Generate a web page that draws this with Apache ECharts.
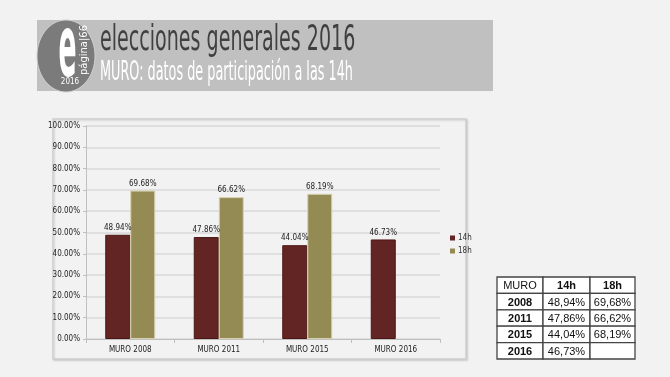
<!DOCTYPE html>
<html>
<head>
<meta charset="utf-8">
<script src="https://cdn.jsdelivr.net/npm/echarts@6/dist/echarts.min.js"></script>
<style>
  html, body { margin: 0; padding: 0; background: #f2f2f2; }
  #chart { width: 670px; height: 377px; }
</style>
</head>
<body>
<div id="chart"></div>
<script>
// datos
const categories = ['MURO 2008', 'MURO 2011', 'MURO 2015', 'MURO 2016'];
const seriesNames = ['14h', '18h'];
const values14 = [48.94, 47.86, 44.04, 46.73];
const values18 = [69.68, 66.62, 68.19, null];
const tableYears = ['2008', '2011', '2015', '2016'];

const narrow = 'Liberation Sans Narrow, DejaVu Sans Condensed, Arial, sans-serif';
const fmtPct = v => v.toFixed(2) + '%';
const fmtComma = v => v == null ? '' : v.toFixed(2).replace('.', ',') + '%';

const myChart = echarts.init(document.getElementById('chart'), null, { renderer: 'canvas' });

// tabla de la derecha
const tableX = 497, tableY = 277, rowH = 16.4;
const colW = [46, 47, 45];
const tableRows = [['MURO', '14h', '18h']].concat(
  tableYears.map((y, i) => [y, fmtComma(values14[i]), fmtComma(values18[i])])
);
const tableGraphics = [];
tableRows.forEach((row, r) => {
  let x = tableX;
  row.forEach((cell, c) => {
    const bold = (r === 0 && c > 0) || (r > 0 && c === 0);
    tableGraphics.push({
      type: 'rect',
      shape: { x: x, y: tableY + r * rowH, width: colW[c], height: rowH },
      style: { fill: '#ffffff', stroke: '#444444', lineWidth: 1.3 },
      z: 10
    });
    tableGraphics.push({
      type: 'text',
      x: x + colW[c] / 2,
      y: tableY + r * rowH + rowH / 2 + 1,
      style: {
        text: cell, align: 'center', verticalAlign: 'middle',
        font: (bold ? 'bold ' : '') + '11px Liberation Sans, Arial, sans-serif',
        fill: '#111111'
      },
      z: 11
    });
    x += colW[c];
  });
});

const option = {
  backgroundColor: '#f2f2f2',
  animation: false,
  grid: { left: 86, right: 230, top: 126, bottom: 38 },
  legend: {
    data: seriesNames.map(n => ({ name: n, icon: 'rect' })),
    orient: 'vertical',
    left: 445,
    top: 229,
    itemWidth: 5,
    itemHeight: 5,
    itemGap: 5,
    itemStyle: { borderWidth: 0 },
    textStyle: { fontSize: 8, color: '#333', fontFamily: narrow, padding: [0, 0, 0, -2] }
  },
  xAxis: {
    type: 'category',
    data: categories,
    axisLine: { lineStyle: { color: '#bfbfbf' } },
    axisTick: { show: true, length: 4, lineStyle: { color: '#bfbfbf' } },
    axisLabel: { color: '#222', fontSize: 8, fontFamily: narrow, margin: 7 }
  },
  yAxis: {
    type: 'value',
    min: 0,
    max: 100,
    interval: 10,
    axisLine: { show: true, lineStyle: { color: '#bfbfbf' } },
    axisTick: { show: true, length: 3, lineStyle: { color: '#bfbfbf' } },
    axisLabel: { color: '#222', fontSize: 8, fontFamily: narrow, margin: 6, formatter: fmtPct },
    splitLine: { lineStyle: { color: '#d9d9d9', width: 1.5 } }
  },
  series: [
    {
      name: '14h',
      type: 'bar',
      data: values14,
      barWidth: 25,
      barGap: 0,
      itemStyle: { color: '#632523', borderColor: '#4a1715', borderWidth: 1 },
      label: { show: true, position: 'top', distance: 3, formatter: p => fmtPct(p.value), fontSize: 8, color: '#222', fontFamily: narrow }
    },
    {
      name: '18h',
      type: 'bar',
      data: values18,
      barWidth: 25,
      itemStyle: { color: '#948a54', borderColor: '#d8d2b0', borderWidth: 1 },
      label: { show: true, position: 'top', distance: 3, formatter: p => fmtPct(p.value), fontSize: 8, color: '#222', fontFamily: narrow }
    }
  ],
  graphic: [
    // marco del gráfico
    {
      type: 'rect', z: -10,
      shape: { x: 53, y: 119, width: 413, height: 240 },
      style: { fill: '#f2f2f2', stroke: '#cfcfcf', lineWidth: 1.5, shadowBlur: 2, shadowColor: 'rgba(0,0,0,0.15)', shadowOffsetX: 1, shadowOffsetY: 1 }
    },
    // cabecera
    {
      type: 'rect', z: 5,
      shape: { x: 37, y: 20, width: 456, height: 71 },
      style: { fill: '#c0c0c0' }
    },
    {
      type: 'ellipse', z: 6,
      shape: { cx: 66, cy: 56, rx: 29, ry: 36 },
      style: { fill: '#7b7b7b', stroke: '#d0d0d0', lineWidth: 1 }
    },
    {
      type: 'text', z: 7, x: 67.5, y: 54, scaleX: 0.31,
      style: { text: 'e', align: 'center', verticalAlign: 'middle', font: 'bold 86px DejaVu Sans, sans-serif', fill: '#ffffff' }
    },
    {
      type: 'text', z: 7, x: 84, y: 50, rotation: Math.PI / 2,
      style: { text: 'página|66', align: 'center', verticalAlign: 'middle', font: '10px DejaVu Sans, sans-serif', fill: '#ffffff' }
    },
    {
      type: 'text', z: 7, x: 70, y: 82, scaleX: 0.8,
      style: { text: '2016', align: 'center', verticalAlign: 'middle', font: '9px DejaVu Sans, sans-serif', fill: '#ffffff' }
    },
    {
      type: 'text', z: 7, x: 100, y: 41, scaleX: 0.545,
      style: { text: 'elecciones generales 2016', align: 'left', verticalAlign: 'middle', font: '35px DejaVu Sans, sans-serif', fill: '#404040' }
    },
    {
      type: 'text', z: 7, x: 100, y: 73, scaleX: 0.493,
      style: { text: 'MURO: datos de participación a las 14h', align: 'left', verticalAlign: 'middle', font: '26px DejaVu Sans, sans-serif', fill: '#ffffff' }
    }
  ].concat(tableGraphics)
};

myChart.setOption(option);
</script>
</body>
</html>
